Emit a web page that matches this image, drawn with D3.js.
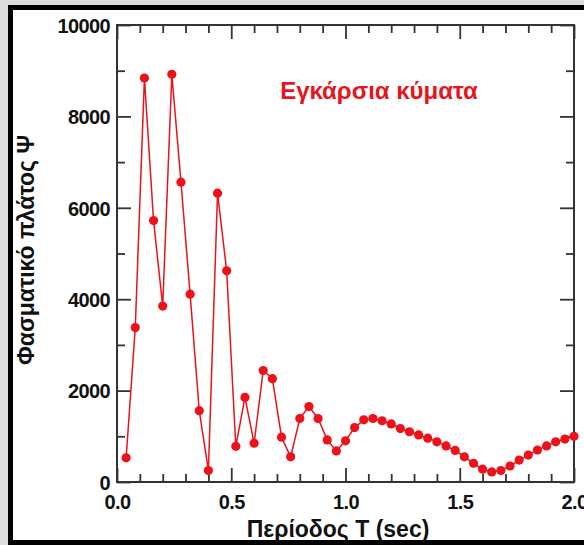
<!DOCTYPE html>
<html>
<head>
<meta charset="utf-8">
<script src="https://cdn.jsdelivr.net/npm/d3@7"></script>
<style>
  body { margin: 0; background: #dcdcdc; }
  svg { display: block; font-family: 'Liberation Sans', Arial, sans-serif; }
  .axis line { stroke: #333; stroke-width: 1.8; }
  .axis path { display: none; }
  .axis text { font-size: 20px; font-weight: bold; fill: #111; letter-spacing: -0.6px; }
  .frame { fill: none; stroke: #333; stroke-width: 2; }
  .series-line { fill: none; stroke: #e8141c; stroke-width: 1.5; }
  .series-dot { fill: #ee1119; }
  .label { font-weight: bold; fill: #111; font-size: 23px; }
  .chart-title { font-weight: bold; fill: #e8141c; font-size: 24px; }
</style>
</head>
<body>
<div id="chart"></div>
<script>
// period T (sec)
const periods = [
  0.04, 0.08, 0.12, 0.16, 0.20, 0.24, 0.28, 0.32, 0.36, 0.40,
  0.44, 0.48, 0.52, 0.56, 0.60, 0.64, 0.68, 0.72, 0.76, 0.80,
  0.84, 0.88, 0.92, 0.96, 1.00, 1.04, 1.08, 1.12, 1.16, 1.20,
  1.24, 1.28, 1.32, 1.36, 1.40, 1.44, 1.48, 1.52, 1.56, 1.60,
  1.64, 1.68, 1.72, 1.76, 1.80, 1.84, 1.88, 1.92, 1.96, 2.00
];

// spectral amplitude
const amplitudes = [
  530, 3380, 8840, 5720, 3850, 8920, 6560, 4110, 1560, 250,
  6320, 4620, 780, 1850, 850, 2440, 2260, 980, 550, 1390,
  1650, 1390, 920, 680, 900, 1190, 1360, 1390, 1340, 1270,
  1170, 1100, 1030, 960, 880, 790, 690, 550, 410, 280,
  220, 250, 350, 480, 590, 700, 790, 880, 940, 1000
];

const xTicks = [0, 0.5, 1.0, 1.5, 2.0];
const xMinorTicks = [0.1, 0.2, 0.3, 0.4, 0.6, 0.7, 0.8, 0.9, 1.1, 1.2, 1.3, 1.4, 1.6, 1.7, 1.8, 1.9];
const yTicks = [0, 2000, 4000, 6000, 8000, 10000];
const yMinorTicks = [1000, 3000, 5000, 7000, 9000];

const titleText = 'Εγκάρσια κύματα';
const xLabelText = 'Περίοδος T (sec)';
const yLabelText = 'Φασματικό πλάτος Ψ';

const data = periods.map((p, i) => ({ period: p, amp: amplitudes[i] }));

const W = 584;
const H = 545;
const margin = { top: 25, left: 117, bottom: 63, right: 10 };
const width = W - margin.left - margin.right;
const height = H - margin.top - margin.bottom;

const svg = d3.select('#chart').append('svg')
    .attr('width', W)
    .attr('height', H);

// panel with black border on left, top and bottom
svg.append('rect')
    .attr('x', 0).attr('y', 0).attr('width', W).attr('height', H)
    .attr('fill', '#dcdcdc');
svg.append('rect')
    .attr('x', 8).attr('y', 5).attr('width', W - 8).attr('height', 540)
    .attr('fill', '#000');
svg.append('rect')
    .attr('x', 13).attr('y', 10).attr('width', W - 13).attr('height', 530)
    .attr('fill', '#fff');

const g = svg.append('g')
    .attr('transform', `translate(${margin.left},${margin.top})`);

const x = d3.scaleLinear().domain([0, 2]).range([0, width]);
const y = d3.scaleLinear().domain([0, 10000]).range([height, 0]);

const fmtX = d3.format('.1f');

// major ticks (with labels) and minor ticks, all pointing inward
g.append('g').attr('class', 'axis axis--x')
    .attr('transform', `translate(0,${height})`)
    .call(d3.axisBottom(x).tickValues(xTicks).tickSize(-14).tickPadding(13).tickFormat(fmtX));
g.append('g').attr('class', 'axis axis--x-minor')
    .attr('transform', `translate(0,${height})`)
    .call(d3.axisBottom(x).tickValues(xMinorTicks).tickSize(-8).tickFormat(''));

g.append('g').attr('class', 'axis axis--x-top')
    .call(d3.axisTop(x).tickValues(xTicks).tickSize(-14).tickFormat(''));
g.append('g').attr('class', 'axis axis--x-top-minor')
    .call(d3.axisTop(x).tickValues(xMinorTicks).tickSize(-8).tickFormat(''));

g.append('g').attr('class', 'axis axis--y')
    .call(d3.axisLeft(y).tickValues(yTicks).tickSize(-14).tickPadding(7).tickFormat(d3.format('d')));
g.append('g').attr('class', 'axis axis--y-minor')
    .call(d3.axisLeft(y).tickValues(yMinorTicks).tickSize(-8).tickFormat(''));

g.append('g').attr('class', 'axis axis--y-right')
    .attr('transform', `translate(${width},0)`)
    .call(d3.axisRight(y).tickValues(yTicks).tickSize(-14).tickFormat(''));
g.append('g').attr('class', 'axis axis--y-right-minor')
    .attr('transform', `translate(${width},0)`)
    .call(d3.axisRight(y).tickValues(yMinorTicks).tickSize(-8).tickFormat(''));

g.append('rect').attr('class', 'frame')
    .attr('width', width)
    .attr('height', height);

g.select('.axis--y').selectAll('text').attr('dy', '0.36em');

const line = d3.line()
    .x(d => x(d.period))
    .y(d => y(d.amp));

g.append('path').datum(data)
    .attr('class', 'series-line')
    .attr('d', line);

g.append('g').selectAll('circle').data(data)
  .enter().append('circle')
    .attr('class', 'series-dot')
    .attr('cx', d => x(d.period))
    .attr('cy', d => y(d.amp))
    .attr('r', 4.6);

g.append('text').attr('class', 'chart-title')
    .attr('x', 262)
    .attr('y', 74)
    .attr('text-anchor', 'middle')
    .text(titleText);

svg.append('text').attr('class', 'label')
    .attr('x', 338)
    .attr('y', 537)
    .attr('text-anchor', 'middle')
    .text(xLabelText);

svg.append('text').attr('class', 'label')
    .attr('transform', 'translate(34,250) rotate(-90)')
    .attr('text-anchor', 'middle')
    .text(yLabelText);
</script>
</body>
</html>
